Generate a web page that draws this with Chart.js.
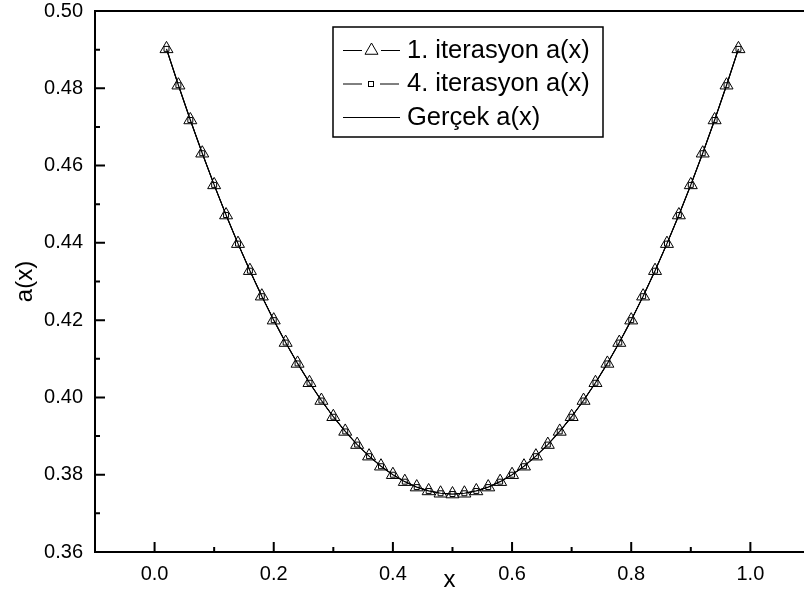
<!DOCTYPE html>
<html>
<head>
<meta charset="utf-8">
<script src="https://cdn.jsdelivr.net/npm/chart.js@4/dist/chart.umd.min.js"></script>
<style>
  html, body { margin: 0; padding: 0; background: #fff; overflow: hidden; }
  #wrap { width: 804px; height: 599px; }
</style>
</head>
<body>
<div id="wrap"><canvas id="chart" width="804" height="599"></canvas></div>
<script>
// x points of the solution
const xValues = [0.02, 0.04, 0.06, 0.08, 0.10, 0.12, 0.14, 0.16, 0.18, 0.20,
  0.22, 0.24, 0.26, 0.28, 0.30, 0.32, 0.34, 0.36, 0.38, 0.40,
  0.42, 0.44, 0.46, 0.48, 0.50, 0.52, 0.54, 0.56, 0.58, 0.60,
  0.62, 0.64, 0.66, 0.68, 0.70, 0.72, 0.74, 0.76, 0.78, 0.80,
  0.82, 0.84, 0.86, 0.88, 0.90, 0.92, 0.94, 0.96, 0.98];

// 1. iterasyon (triangles)
const iter1Values = [0.4902, 0.4808, 0.4718, 0.4632, 0.4550, 0.4472, 0.4398, 0.4328, 0.4262, 0.4200,
  0.4142, 0.4088, 0.4038, 0.3992, 0.3950, 0.3912, 0.3878, 0.3848, 0.3822, 0.3800,
  0.3782, 0.3768, 0.3758, 0.3752, 0.3750, 0.3752, 0.3758, 0.3768, 0.3782, 0.3800,
  0.3822, 0.3848, 0.3878, 0.3912, 0.3950, 0.3992, 0.4038, 0.4088, 0.4142, 0.4200,
  0.4262, 0.4328, 0.4398, 0.4472, 0.4550, 0.4632, 0.4718, 0.4808, 0.4902];

// 4. iterasyon (small squares)
const iter4Values = [0.4902, 0.4808, 0.4718, 0.4632, 0.4550, 0.4472, 0.4398, 0.4328, 0.4262, 0.4200,
  0.4142, 0.4088, 0.4038, 0.3992, 0.3950, 0.3912, 0.3878, 0.3848, 0.3822, 0.3800,
  0.3782, 0.3768, 0.3758, 0.3752, 0.3750, 0.3752, 0.3758, 0.3768, 0.3782, 0.3800,
  0.3822, 0.3848, 0.3878, 0.3912, 0.3950, 0.3992, 0.4038, 0.4088, 0.4142, 0.4200,
  0.4262, 0.4328, 0.4398, 0.4472, 0.4550, 0.4632, 0.4718, 0.4808, 0.4902];

// Gerçek (solid line)
const exactValues = [0.4902, 0.4808, 0.4718, 0.4632, 0.4550, 0.4472, 0.4398, 0.4328, 0.4262, 0.4200,
  0.4142, 0.4088, 0.4038, 0.3992, 0.3950, 0.3912, 0.3878, 0.3848, 0.3822, 0.3800,
  0.3782, 0.3768, 0.3758, 0.3752, 0.3750, 0.3752, 0.3758, 0.3768, 0.3782, 0.3800,
  0.3822, 0.3848, 0.3878, 0.3912, 0.3950, 0.3992, 0.4038, 0.4088, 0.4142, 0.4200,
  0.4262, 0.4328, 0.4398, 0.4472, 0.4550, 0.4632, 0.4718, 0.4808, 0.4902];

const seriesLabels = ['1. iterasyon a(x)', '4. iterasyon a(x)', 'Gerçek a(x)'];

const xTickLabels = ['0.0', '0.2', '0.4', '0.6', '0.8', '1.0'];
const xMinorTicks = [0.1, 0.3, 0.5, 0.7, 0.9];
const yTickLabels = ['0.36', '0.38', '0.40', '0.42', '0.44', '0.46', '0.48', '0.50'];
const yMinorTicks = [0.37, 0.39, 0.41, 0.43, 0.45, 0.47, 0.49];

const fontFamily = "'Liberation Sans', Arial, Helvetica, sans-serif";

function toPoints(ys) {
  return xValues.map(function (x, i) { return { x: x, y: ys[i] }; });
}

// axis frame, inward ticks and the boxed legend
const framePlugin = {
  id: 'frame',
  afterDraw(chart) {
    const ctx = chart.ctx;
    const area = chart.chartArea;
    const xs = chart.scales.x;
    const ys = chart.scales.y;

    ctx.save();
    ctx.strokeStyle = '#000';
    ctx.lineWidth = 2;
    ctx.beginPath();
    ctx.moveTo(area.left, area.top);
    ctx.lineTo(area.right, area.top);
    ctx.moveTo(area.left, area.top - 1);
    ctx.lineTo(area.left, area.bottom + 1);
    ctx.moveTo(area.left - 1, area.bottom);
    ctx.lineTo(area.right, area.bottom);

    xTickLabels.forEach(function (l) {
      const p = xs.getPixelForValue(parseFloat(l));
      ctx.moveTo(p, area.bottom);
      ctx.lineTo(p, area.bottom - 10);
    });
    xMinorTicks.forEach(function (v) {
      const p = xs.getPixelForValue(v);
      ctx.moveTo(p, area.bottom);
      ctx.lineTo(p, area.bottom - 5);
    });
    yTickLabels.forEach(function (l) {
      const p = ys.getPixelForValue(parseFloat(l));
      ctx.moveTo(area.left, p);
      ctx.lineTo(area.left + 10, p);
    });
    yMinorTicks.forEach(function (v) {
      const p = ys.getPixelForValue(v);
      ctx.moveTo(area.left, p);
      ctx.lineTo(area.left + 5, p);
    });
    ctx.stroke();

    // legend box
    const bx = 333, by = 27, bw = 270, bh = 110;
    ctx.lineWidth = 1.5;
    ctx.strokeRect(bx, by, bw, bh);

    const rows = [50.5, 84, 117.5];
    ctx.font = '25.5px ' + fontFamily;
    ctx.fillStyle = '#000';
    ctx.textBaseline = 'middle';
    ctx.textAlign = 'left';
    chart.data.datasets.forEach(function (ds, i) {
      const y = rows[i];
      ctx.lineWidth = 1;
      ctx.beginPath();
      if (ds.pointStyle === 'triangle') {
        ctx.moveTo(343, y); ctx.lineTo(362, y);
        ctx.moveTo(381, y); ctx.lineTo(400, y);
        ctx.stroke();
        const r = 7.5, cx = 371.5;
        ctx.beginPath();
        ctx.moveTo(cx, y - r);
        ctx.lineTo(cx + r * Math.sin(2 * Math.PI / 3), y + r / 2);
        ctx.lineTo(cx - r * Math.sin(2 * Math.PI / 3), y + r / 2);
        ctx.closePath();
        ctx.fillStyle = '#fff';
        ctx.fill();
        ctx.stroke();
      } else if (ds.pointStyle === 'rect') {
        ctx.moveTo(343, y); ctx.lineTo(362, y);
        ctx.moveTo(380, y); ctx.lineTo(399, y);
        ctx.stroke();
        ctx.fillStyle = '#fff';
        ctx.fillRect(368.5, y - 2.5, 5, 5);
        ctx.strokeRect(368.5, y - 2.5, 5, 5);
      } else {
        ctx.moveTo(343, y); ctx.lineTo(400, y);
        ctx.stroke();
      }
      ctx.fillStyle = '#000';
      ctx.fillText(ds.label, 407, y);
    });
    ctx.restore();
  }
};

Chart.defaults.color = '#000';
Chart.defaults.font.family = fontFamily;

new Chart(document.getElementById('chart'), {
  type: 'scatter',
  data: {
    datasets: [
      {
        label: seriesLabels[0],
        data: toPoints(iter1Values),
        showLine: true,
        borderColor: '#000',
        borderWidth: 1,
        pointStyle: 'triangle',
        pointRadius: 7.5,
        pointBorderWidth: 1,
        pointBackgroundColor: '#fff',
        pointBorderColor: '#000',
        order: 3
      },
      {
        label: seriesLabels[1],
        data: toPoints(iter4Values),
        showLine: true,
        borderColor: '#000',
        borderWidth: 1,
        pointStyle: 'rect',
        pointRadius: 3.5,
        pointBorderWidth: 1,
        pointBackgroundColor: '#fff',
        pointBorderColor: '#000',
        order: 2
      },
      {
        label: seriesLabels[2],
        data: toPoints(exactValues),
        showLine: true,
        borderColor: '#000',
        borderWidth: 1.2,
        pointRadius: 0,
        order: 1
      }
    ]
  },
  options: {
    responsive: false,
    animation: false,
    devicePixelRatio: 1,
    layout: { autoPadding: false, padding: { top: 11, right: 0, bottom: 0, left: 0 } },
    plugins: {
      legend: { display: false },
      tooltip: { enabled: false }
    },
    scales: {
      x: {
        type: 'linear',
        min: -0.1,
        max: 1.09,
        border: { display: false },
        grid: { display: false, drawTicks: false },
        afterBuildTicks: function (scale) {
          scale.ticks = xTickLabels.map(function (l) { return { value: parseFloat(l) }; });
        },
        afterFit: function (scale) {
          scale.height = 47;
          scale.paddingLeft = 0;
          scale.paddingRight = 0;
        },
        ticks: {
          autoSkip: false,
          maxRotation: 0,
          padding: 10,
          font: { size: 20 },
          callback: function (v) { return v.toFixed(1); }
        },
        title: {
          display: true,
          text: 'x',
          font: { size: 24 },
          padding: { top: 0, bottom: 4 }
        }
      },
      y: {
        type: 'linear',
        min: 0.36,
        max: 0.50,
        border: { display: false },
        grid: { display: false, drawTicks: false },
        afterBuildTicks: function (scale) {
          scale.ticks = yTickLabels.map(function (l) { return { value: parseFloat(l) }; });
        },
        afterFit: function (scale) {
          scale.width = 95;
          scale.paddingTop = 0;
          scale.paddingBottom = 0;
        },
        ticks: {
          autoSkip: false,
          padding: 12,
          font: { size: 20 },
          callback: function (v) { return v.toFixed(2); }
        },
        title: {
          display: true,
          text: 'a(x)',
          font: { size: 24 },
          padding: { top: 11, bottom: 0 }
        }
      }
    }
  },
  plugins: [framePlugin]
});
</script>
</body>
</html>
